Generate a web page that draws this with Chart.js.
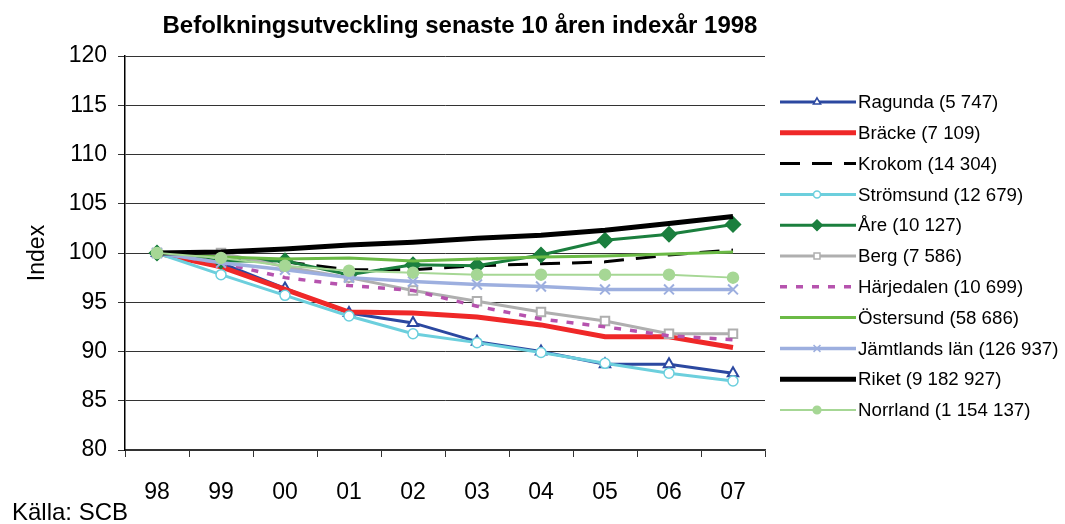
<!DOCTYPE html>
<html>
<head>
<meta charset="utf-8">
<script src="https://cdn.jsdelivr.net/npm/chart.js@4"></script>
<style>
  html, body { margin: 0; padding: 0; background: #fff; }
  #wrap { width: 1065px; height: 524px; }
</style>
</head>
<body>
<div id="wrap"><canvas id="lineChart" width="1065" height="524"></canvas></div>
<script>
// years (index year 1998 = 100)
var years = ['98', '99', '00', '01', '02', '03', '04', '05', '06', '07'];

var ragunda    = [100, 99.0, 96.4, 93.9, 92.9, 91.0, 90.0, 88.7, 88.7, 87.8];
var bracke     = [100, 98.6, 96.3, 94.0, 93.9, 93.5, 92.7, 91.5, 91.5, 90.4];
var krokom     = [100, 99.5, 99.1, 98.3, 98.3, 98.7, 98.9, 99.1, 99.8, 100.3];
var stromsund  = [100, 97.8, 95.7, 93.6, 91.8, 90.9, 89.9, 88.8, 87.8, 87.0];
var are        = [100, 99.2, 99.2, 97.8, 98.8, 98.7, 99.8, 101.3, 101.9, 102.9];
var berg       = [100, 100.0, 98.6, 97.5, 96.2, 95.1, 94.0, 93.1, 91.8, 91.8];
var harjedalen = [100, 99.0, 97.5, 96.7, 96.2, 94.6, 93.3, 92.5, 91.6, 91.2];
var ostersund  = [100, 99.6, 99.4, 99.5, 99.2, 99.4, 99.6, 99.7, 99.9, 100.1];
var jamtland   = [100, 99.0, 98.3, 97.5, 97.1, 96.8, 96.6, 96.3, 96.3, 96.3];
var riket      = [100, 100.1, 100.4, 100.8, 101.1, 101.5, 101.8, 102.3, 103.0, 103.7];
var norrland   = [100, 99.5, 98.7, 98.2, 98.0, 97.8, 97.8, 97.8, 97.8, 97.5];

var seriesNames = [
    'Ragunda (5 747)', 'Bräcke (7 109)', 'Krokom (14 304)', 'Strömsund (12 679)',
    'Åre (10 127)', 'Berg (7 586)', 'Härjedalen (10 699)', 'Östersund (58 686)',
    'Jämtlands län (126 937)', 'Riket (9 182 927)', 'Norrland (1 154 137)'
];

var yTicks = [80, 85, 90, 95, 100, 105, 110, 115, 120];

var FONT = "'Liberation Sans', Arial, sans-serif";

function series(i, data, color, width, extra) {
    var ds = {
        label: seriesNames[i],
        data: data,
        borderColor: color,
        borderWidth: width,
        tension: 0,
        fill: false,
        order: -i,
        pointRadius: 0,
        pointHoverRadius: 0,
        pointStyle: 'circle',
        pointBackgroundColor: color,
        pointBorderColor: color,
        pointBorderWidth: 1.5
    };
    for (var k in extra) ds[k] = extra[k];
    return ds;
}

var datasets = [
    series(0, ragunda, '#2B48A0', 3, {pointStyle: 'triangle', pointRadius: 6, pointBorderWidth: 2, pointBackgroundColor: '#fff'}),
    series(1, bracke, '#EF2828', 5, {}),
    series(2, krokom, '#000000', 3, {borderDash: [20, 12]}),
    series(3, stromsund, '#6CCFDD', 3, {pointStyle: 'circle', pointRadius: 5, pointBackgroundColor: '#fff'}),
    series(4, are, '#1B7F3E', 3, {pointStyle: 'rectRot', pointRadius: 7.5}),
    series(5, berg, '#AFAFAF', 3, {pointStyle: 'rect', pointRadius: 6, pointBorderWidth: 2, pointBackgroundColor: '#fff'}),
    series(6, harjedalen, '#B653AE', 3.5, {borderDash: [7, 9]}),
    series(7, ostersund, '#6BBA46', 3, {}),
    series(8, jamtland, '#9DAFDF', 3.5, {pointStyle: 'crossRot', pointRadius: 7, pointBorderWidth: 2}),
    series(9, riket, '#000000', 5, {}),
    series(10, norrland, '#A6D795', 2, {pointStyle: 'circle', pointRadius: 5.5})
];

// title, source note and the legend with line + marker samples
var decorations = {
    id: 'decorations',
    afterDraw: function(chart) {
        var ctx = chart.ctx;
        ctx.save();
        ctx.fillStyle = '#000';
        ctx.font = 'bold 24px ' + FONT;
        ctx.textAlign = 'center';
        ctx.textBaseline = 'alphabetic';
        ctx.fillText('Befolkningsutveckling senaste 10 åren indexår 1998', 460, 33);

        ctx.font = '24px ' + FONT;
        ctx.textAlign = 'left';
        ctx.fillText('Källa: SCB', 12, 520);

        chart.data.datasets.forEach(function(ds, i) {
            var y = 102 + i * 30.8;
            ctx.save();
            ctx.strokeStyle = ds.borderColor;
            ctx.lineWidth = ds.borderWidth;
            ctx.setLineDash(ds.borderDash || []);
            ctx.beginPath();
            ctx.moveTo(780, y);
            ctx.lineTo(856, y);
            ctx.stroke();
            if (ds.pointRadius > 0) {
                ctx.setLineDash([]);
                ctx.fillStyle = ds.pointBackgroundColor;
                ctx.strokeStyle = ds.pointBorderColor;
                ctx.lineWidth = 1.5;
                Chart.helpers.drawPoint(ctx, {
                    pointStyle: ds.pointStyle,
                    radius: ds.pointRadius * 0.7,
                    rotation: 0,
                    borderWidth: 1.5
                }, 817, y);
            }
            ctx.restore();
            ctx.fillStyle = '#000';
            ctx.font = '18.7px ' + FONT;
            ctx.textBaseline = 'middle';
            ctx.fillText(ds.label, 858, y + 1);
        });
        ctx.restore();
    }
};

var ctxL = document.getElementById('lineChart').getContext('2d');
var lineChart = new Chart(ctxL, {
    type: 'line',
    data: {
        labels: years,
        datasets: datasets
    },
    plugins: [decorations],
    options: {
        responsive: false,
        animation: false,
        events: [],
        layout: {
            padding: {top: 56, right: 300, bottom: 0, left: 0}
        },
        plugins: {
            legend: {display: false},
            tooltip: {enabled: false}
        },
        scales: {
            x: {
                type: 'category',
                offset: true,
                afterFit: function(scale) { scale.height = 74; },
                grid: {
                    offset: true,
                    drawOnChartArea: false,
                    drawTicks: true,
                    tickLength: 7,
                    color: '#333'
                },
                border: {color: '#333', width: 1.5},
                ticks: {
                    color: '#000',
                    padding: 22,
                    maxRotation: 0,
                    font: {family: FONT, size: 23}
                }
            },
            y: {
                min: 80,
                max: 120,
                afterFit: function(scale) { scale.width = 125; },
                afterBuildTicks: function(scale) {
                    scale.ticks = yTicks.map(function(v) { return {value: v}; });
                },
                grid: {
                    color: '#333',
                    lineWidth: 1,
                    drawTicks: true,
                    tickLength: 7
                },
                border: {color: '#000', width: 1.5},
                ticks: {
                    color: '#000',
                    padding: 11,
                    font: {family: FONT, size: 23}
                },
                title: {
                    display: true,
                    text: 'Index',
                    color: '#000',
                    padding: {top: 24, bottom: 0},
                    font: {family: FONT, size: 23}
                }
            }
        }
    }
});
</script>
</body>
</html>
